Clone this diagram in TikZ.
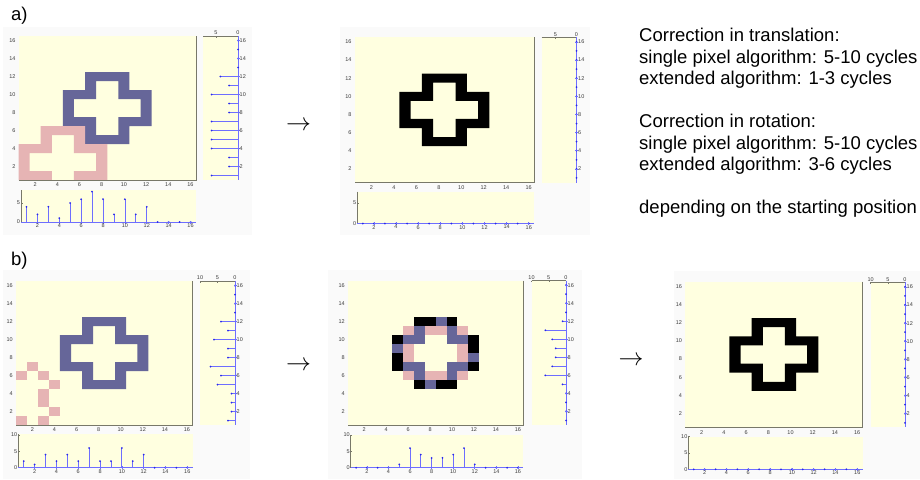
\documentclass[tikz,border=0pt]{standalone}
\usepackage{fontspec}
\setmainfont{Liberation Sans}
\definecolor{bgy}{RGB}{255,255,224}
\definecolor{cblue}{RGB}{102,102,153}
\definecolor{cpink}{RGB}{230,180,180}
\definecolor{stemc}{RGB}{110,110,255}
\definecolor{dotc}{RGB}{40,40,235}
\definecolor{axg}{RGB}{120,120,105}
\definecolor{labc}{RGB}{60,60,60}
\definecolor{panelbg}{RGB}{250,250,250}
\tikzset{
  ticklab/.style={font=\fontsize{5.5}{6}\selectfont, text=labc, inner sep=0.3pt},
  bigtext/.style={font=\fontsize{18.5}{21.5}\selectfont, inner sep=0pt, anchor=base west},
  stemfill/.style={fill=stemc},
  arrowsym/.style={font=\fontsize{24}{24}\selectfont, inner sep=0pt},
  pics/ring/.style={code={
    \fill[#1, even odd rule] (6,4) -- (10,4) -- (10,6) -- (12,6) -- (12,10) -- (10,10) -- (10,12) -- (6,12) -- (6,10) -- (4,10) -- (4,6) -- (6,6) -- cycle
      (7,5) -- (9,5) -- (9,7) -- (11,7) -- (11,9) -- (9,9) -- (9,11) -- (7,11) -- (7,9) -- (5,9) -- (5,7) -- (7,7) -- cycle;
  }}
}
% main image frame and labels: #1 prefix, #2 x0, #3 y0, #4 x1, #5 y1
\newcommand{\mainimg}[5]{%
  \fill[bgy] (#2,#3) rectangle (#4,#5);
  \foreach \k in {2,4,...,16}{
    \pgfmathsetmacro{\yy}{#5-(\k-0.5)*(#5-#3)/16}
    \pgfmathsetmacro{\xx}{#2+(\k-0.5)*(#4-#2)/16}
    \node[ticklab,anchor=east] (#1yl\k) at (#2-2.5,\yy) {\k};
    \node[ticklab,anchor=north] (#1xl\k) at (\xx,#5+2.5) {\k};
  }
}
\newcommand{\mainframe}[4]{%
  \draw[axg, line width=0.7pt] (#3,#2) -- (#3,#4) -- (#1,#4);
}
% cells scope: #1 x0, #2 y0, #3 x1, #4 y1, #5 content
\newcommand{\incells}[5]{%
  \pgfmathsetmacro{\cw}{(#3-#1)/16}
  \pgfmathsetmacro{\ch}{(#4-#2)/16}
  \begin{scope}[xshift=#1pt, yshift=-#4pt, x=\cw pt, y=\ch pt]
    \clip (0,0) rectangle (16,16);
    #5
  \end{scope}
}
% side plot: #1 prefix #2 sx0 #3 sy0 #4 sx1 #5 sy1 #6 scale #7 top labels #8 values rows 1..16
\newcommand{\sideplot}[8]{%
  \fill[bgy] (#2,#3) rectangle (#4,#5);
  \draw[axg, line width=0.6pt] (#2,#3) -- (#4,#3);
  \foreach \t in {#7}{
    \draw[axg, line width=0.5pt] (#4-\t*#6,#3) -- ++(0,1.5);
    \node[ticklab, anchor=south] (#1tl\t) at (#4-\t*#6,#3-0.5) {\t};
  }
  \fill[stemfill] (#4-0.4,#3) rectangle (#4+0.4,#5);
  \foreach \v [count=\r] in {#8}{
    \pgfmathsetmacro{\yy}{#5-(\r-0.5)*(#5-#3)/16}
    \fill[stemfill] (#4-\v*#6,\yy-0.4) rectangle (#4,\yy+0.4);
    \fill[dotc] (#4-\v*#6,\yy) circle (1.0);
  }
  \foreach \k in {2,4,...,16}{
    \pgfmathsetmacro{\yy}{#5-(\k-0.5)*(#5-#3)/16}
    \fill[stemfill] (#4-1.5,\yy-0.3) rectangle (#4+1.5,\yy+0.3);
    \node[ticklab, anchor=west] (#1rl\k) at (#4+1.2,\yy) {\k};
  }
}
% bottom plot: #1 prefix #2 bx0 #3 by0 #4 bx1 #5 by1 #6 scale #7 left labels #8 values cols 1..16
\newcommand{\botplot}[8]{%
  \fill[bgy] (#2,#3) rectangle (#4,#5);
  \draw[axg, line width=0.6pt] (#2,#3) -- (#2,#5);
  \foreach \t in {#7}{
    \draw[axg, line width=0.5pt] (#2,#5-\t*#6) -- ++(1.5,0);
    \node[ticklab, anchor=east] (#1ll\t) at (#2-0.5,#5-\t*#6) {\t};
  }
  \fill[stemfill] (#2,#5-0.4) rectangle (#4,#5+0.4);
  \foreach \v [count=\c] in {#8}{
    \pgfmathsetmacro{\xx}{#2+(\c-0.5)*(#4-#2)/16}
    \fill[stemfill] (\xx-0.4,#5-\v*#6) rectangle (\xx+0.4,#5);
    \fill[dotc] (\xx,#5-\v*#6) circle (1.0);
  }
  \foreach \k in {2,4,...,16}{
    \pgfmathsetmacro{\xx}{#2+(\k-0.5)*(#4-#2)/16}
    \fill[stemfill] (\xx-0.3,#5-1.5) rectangle (\xx+0.3,#5+1.5);
    \node[ticklab, anchor=north] (#1bl\k) at (\xx,#5+1.2) {\k};
  }
}
\begin{document}
\begin{tikzpicture}[x=1pt, y=-1pt]
\useasboundingbox (0,0) rectangle (920,479);
\fill[white] (0,0) rectangle (920,479);
% faint figure backgrounds
\fill[panelbg] (3,27) rectangle (252,235);
\fill[panelbg] (340,27) rectangle (590,235);
\fill[panelbg] (3,270) rectangle (250,479);
\fill[panelbg] (328,270) rectangle (582,479);
\fill[panelbg] (674,271) rectangle (920,479);

% ---------- panel a1 ----------
\node[font=\fontsize{18.5}{20}\selectfont, inner sep=0pt, anchor=west] (labA) at (11,15.8) {a)};
\mainimg{aa}{18.5}{36}{196}{180}
\incells{18.5}{36}{196}{180}{%
  \pic at (0,0) {ring=cblue};
  \pic at (-4,-6) {ring=cpink};
}
\mainframe{18.5}{36}{196}{180}
\sideplot{aas}{203}{36}{238}{180}{4.4}{5,0}{6,2,2,6,6,6,6,2,2,6,2,4,0,0,0,0}
\botplot{aab}{21}{190}{196}{222}{3.8}{0,5}{4,2,4,1,5,6,8,6,2,6,2,4,0,0,0,0}

\node[arrowsym] (arrA) at (298.5,125.7) {$\rightarrow$};

% ---------- panel a2 ----------
\mainimg{ab}{354.5}{37.3}{534.3}{182.5}
\incells{354.5}{37.3}{534.3}{182.5}{%
  \pic at (0,0) {ring=black};
}
\mainframe{354.5}{37.3}{534.3}{182.5}
\sideplot{abs}{541.7}{37.3}{576.5}{182.5}{4.2}{5,0}{0,0,0,0,0,0,0,0,0,0,0,0,0,0,0,0}
\botplot{abb}{357.3}{191.7}{534.3}{223.5}{4.1}{0,5}{0,0,0,0,0,0,0,0,0,0,0,0,0,0,0,0}

% ---------- text ----------
\node[bigtext] (t1) at (639,41.5) {Correction in translation:};
\node[bigtext] (t2) at (639,63) {single pixel algorithm: 5-10 cycles};
\node[bigtext] (t3) at (639,84.5) {extended algorithm: 1-3 cycles};
\node[bigtext] (t4) at (639,127.5) {Correction in rotation:};
\node[bigtext] (t5) at (639,149) {single pixel algorithm: 5-10 cycles};
\node[bigtext] (t6) at (639,170.5) {extended algorithm: 3-6 cycles};
\node[bigtext] (t7) at (639,213.5) {depending on the starting position};

% ---------- panel b1 ----------
\node[font=\fontsize{18.5}{20}\selectfont, inner sep=0pt, anchor=west] (labB) at (11,260.5) {b)};
\mainimg{ba}{15.8}{281}{192.5}{425}
\incells{15.8}{281}{192.5}{425}{%
  \pic at (0,0) {ring=cblue};
  \foreach \c/\r in {2/7,1/6,3/6,4/5,3/4,3/3,4/2,1/1,3/1}
    \fill[cpink] (\c-1,\r-1) rectangle (\c,\r);
}
\mainframe{15.8}{281}{192.5}{425}
\sideplot{bas}{200}{281}{235}{425}{3.5}{10,5,0}{2,1,1,1,5,4,7,2,2,6,2,4,0,0,0,0}
\botplot{bab}{18.3}{434.3}{192.7}{467.7}{3.27}{0,5,10}{2,1,4,2,4,2,6,2,2,6,2,4,0,0,0,0}

\node[arrowsym] (arrB1) at (298.5,366) {$\rightarrow$};

% ---------- panel b2 ----------
\mainimg{bb}{347.8}{280.7}{523.3}{425}
\incells{347.8}{280.7}{523.3}{425}{%
  \foreach \c/\r in {7/12,8/12,10/12,5/10,12/10,12/9,5/8,5/7,12/7,7/5,9/5,10/5}
    \fill[black] (\c-1,\r-1) rectangle (\c,\r);
  \foreach \c/\r in {9/12,7/11,10/11,6/10,7/10,10/10,11/10,5/9,12/8,6/7,7/7,10/7,11/7,7/6,10/6,8/5}
    \fill[cblue] (\c-1,\r-1) rectangle (\c,\r);
  \foreach \c/\r in {6/11,8/11,9/11,11/11,6/9,11/9,6/8,11/8,6/6,8/6,9/6,11/6}
    \fill[cpink] (\c-1,\r-1) rectangle (\c,\r);
}
\mainframe{347.8}{280.7}{523.3}{425}
\sideplot{bbs}{531.7}{280.7}{566}{425}{3.45}{10,5,0}{0,0,0,0,1,6,4,3,3,4,6,1,0,0,0,0}
\botplot{bbb}{350.7}{435}{523.3}{467.7}{3.27}{0,5,10}{0,0,0,0,1,6,4,3,3,4,6,1,0,0,0,0}

\node[arrowsym] (arrB2) at (631,360.7) {$\rightarrow$};

% ---------- panel b3 ----------
\mainimg{bc}{685}{281.7}{862.7}{427.3}
\incells{685}{281.7}{862.7}{427.3}{%
  \pic at (0,0) {ring=black};
}
\mainframe{685}{281.7}{862.7}{427.3}
\sideplot{bcs}{870.7}{282.3}{905}{427.3}{3.43}{10,5,0}{0,0,0,0,0,0,0,0,0,0,0,0,0,0,0,0}
\botplot{bcb}{688.3}{436.7}{862.7}{469.3}{3.26}{0,5,10}{0,0,0,0,0,0,0,0,0,0,0,0,0,0,0,0}
\end{tikzpicture}
\end{document}
